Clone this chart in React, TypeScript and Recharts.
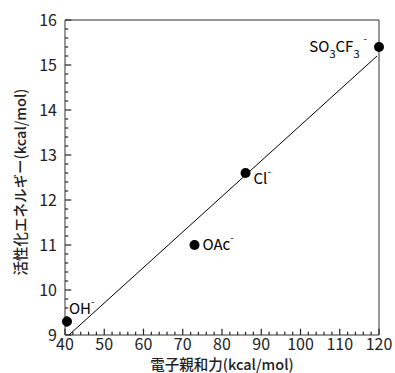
import React from "react"
import { ComposedChart, Scatter, XAxis, YAxis, ReferenceLine } from "recharts"

const anions = ["OH", "OAc", "Cl", "SO3CF3"]
const affinity = [40.5, 73, 86, 120]
const activation = [9.3, 11.0, 12.6, 15.4]

// fitted line end points
const fitX = [41, 119.5]
const fitY = [9, 15.2]

const xMajor = [40, 50, 60, 70, 80, 90, 100, 110, 120]
const yMajor = [9, 10, 11, 12, 13, 14, 15, 16]

const FONT = "'Noto Sans CJK JP', 'Noto Sans', sans-serif"
const INK = "#222"

const points = anions.map((name, i) => ({ name, x: affinity[i], y: activation[i] }))
const fit = fitX.map((x, i) => ({ x, y: fitY[i] }))

const xTicks = Array.from({ length: 41 }, (_, i) => 40 + i * 2)
const yTicks = Array.from({ length: 36 }, (_, i) => Math.round((9 + i * 0.2) * 10) / 10)

// inward tick lengths, in axis units (about 6px major / 3px minor)
const xTickLen = (v: number) => (xMajor.includes(v) ? 0.14 : 0.07)
const yTickLen = (v: number) => (yMajor.includes(v) ? 1.6 : 0.8)

function XTick(props: any) {
  const { x, y, payload } = props
  if (!xMajor.includes(payload.value)) return null
  return (
    <text x={x} y={y + 15} textAnchor="middle" fontSize={16} fontFamily={FONT} fill={INK}>
      {payload.value}
    </text>
  )
}

function YTick(props: any) {
  const { x, y, payload } = props
  if (!yMajor.includes(payload.value)) return null
  return (
    <text x={x - 8} y={y + 6} textAnchor="end" fontSize={16} fontFamily={FONT} fill={INK}>
      {payload.value}
    </text>
  )
}

function AnionLabel({ name, cx, cy }: { name: string; cx: number; cy: number }) {
  const common = { fontSize: 15, fontFamily: FONT, fill: "#000" }
  if (name === "OH")
    return (
      <text x={cx + 2} y={cy - 8} {...common}>
        OH<tspan fontSize={10} dy={-9}>-</tspan>
      </text>
    )
  if (name === "OAc")
    return (
      <text x={cx + 8} y={cy + 5} {...common}>
        OAc<tspan fontSize={10} dy={-9}>-</tspan>
      </text>
    )
  if (name === "Cl")
    return (
      <text x={cx + 8} y={cy + 11} {...common}>
        Cl<tspan fontSize={10} dy={-9}>-</tspan>
      </text>
    )
  return (
    <text x={cx - 12} y={cy + 5} textAnchor="end" {...common}>
      SO<tspan fontSize={11} dy={6}>3</tspan>
      <tspan dy={-6}>CF</tspan>
      <tspan fontSize={11} dy={6}>3</tspan>
      <tspan fontSize={10} dx={4} dy={-16}>-</tspan>
    </text>
  )
}

function Dot(props: any) {
  const { cx, cy, payload } = props
  return (
    <g>
      <circle cx={cx} cy={cy} r={5} fill="#000" />
      <AnionLabel name={payload.name} cx={cx} cy={cy} />
    </g>
  )
}

export default function App() {
  return (
    <div style={{ position: "absolute", left: 0, top: 0, background: "#fff" }}>
      <ComposedChart width={395} height={373} margin={{ top: 20, right: 16, bottom: 0, left: 0 }}>
        <XAxis
          type="number"
          dataKey="x"
          domain={[40, 120]}
          ticks={xTicks}
          interval={0}
          height={38}
          tickSize={0}
          tickMargin={0}
          tick={<XTick />}
          stroke="#333"
          label={{
            content: () => (
              <text
                x={222}
                y={370}
                textAnchor="middle"
                fontSize={14.5}
                fontFamily={FONT}
                fontWeight={500}
                fill={INK}
              >
                電子親和力(kcal/mol)
              </text>
            ),
          }}
        />
        <YAxis
          type="number"
          dataKey="y"
          domain={[9, 16]}
          ticks={yTicks}
          interval={0}
          width={65}
          tickSize={0}
          tickMargin={0}
          tick={<YTick />}
          stroke="#333"
          label={{
            content: () => (
              <text
                x={19}
                y={182}
                transform="rotate(-90 19 182)"
                textAnchor="middle"
                dominantBaseline="central"
                fontSize={14.5}
                fontFamily={FONT}
                fontWeight={500}
                fill={INK}
              >
                活性化エネルギー(kcal/mol)
              </text>
            ),
          }}
        />
        {xTicks.map((v) => (
          <ReferenceLine
            key={`xt${v}`}
            segment={[{ x: v, y: 9 }, { x: v, y: 9 + xTickLen(v) }]}
            stroke="#222"
            strokeWidth={1.2}
            ifOverflow="visible"
          />
        ))}
        {yTicks.map((v) => (
          <ReferenceLine
            key={`yt${v}`}
            segment={[{ x: 40, y: v }, { x: 40 + yTickLen(v), y: v }]}
            stroke="#222"
            strokeWidth={1.2}
            ifOverflow="visible"
          />
        ))}
        <ReferenceLine y={16} stroke="#333" />
        <ReferenceLine x={120} stroke="#333" />
        <Scatter
          data={fit}
          line={{ stroke: "#000", strokeWidth: 1 }}
          shape={() => null}
          isAnimationActive={false}
        />
        <Scatter data={points} shape={<Dot />} isAnimationActive={false} />
      </ComposedChart>
    </div>
  )
}
